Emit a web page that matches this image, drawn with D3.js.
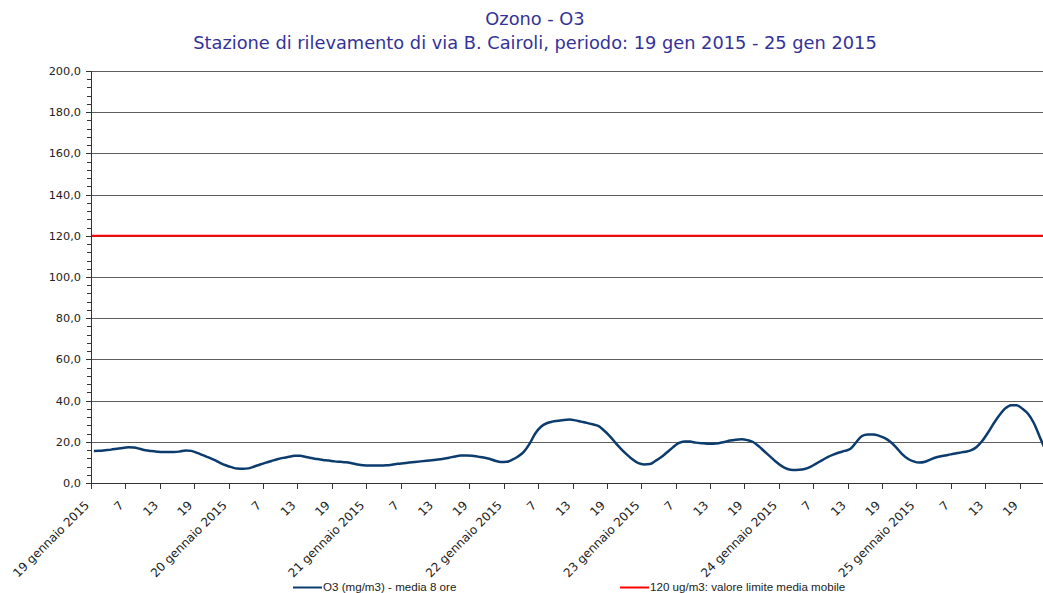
<!DOCTYPE html>
<html><head><meta charset="utf-8">
<script src="https://cdn.jsdelivr.net/npm/d3@7"></script>
<style>
body{margin:0;background:#fff;}
svg{display:block;}
</style></head>
<body>
<svg id="chart" width="1043" height="593"></svg>
<script>
const titleLines = ["Ozono - O3", "Stazione di rilevamento di via B. Cairoli, periodo: 19 gen 2015 - 25 gen 2015"];
const dayLabels = ["19 gennaio 2015","20 gennaio 2015","21 gennaio 2015","22 gennaio 2015","23 gennaio 2015","24 gennaio 2015","25 gennaio 2015"];
const hourLabels = ["7","13","19"];
const yTicks = [0,20,40,60,80,100,120,140,160,180,200];
const limitValue = 120;
const seriesNames = ["O3 (mg/m3) - media 8 ore", "120 ug/m3: valore limite media mobile"];
// hourly 8-hour mean values, 19 gen 01:00 onward
const o3Values = [
 15.5,15.6,15.9,16.2,16.6,17.0,17.3,17.2,16.6,15.9,15.5,15.2,15.0,15.0,15.0,15.3,15.8,15.6,14.6,13.5,12.4,11.2,9.8,8.6,
 7.7,7.0,6.9,7.1,8.0,9.0,9.9,10.7,11.5,12.2,12.7,13.2,13.2,12.6,12.1,11.6,11.2,10.9,10.5,10.3,10.1,9.6,9.0,8.6,
 8.5,8.5,8.5,8.6,8.9,9.3,9.6,9.9,10.2,10.5,10.8,11.1,11.4,11.8,12.3,12.9,13.3,13.3,13.2,12.8,12.4,11.8,10.8,10.2,
 10.3,11.3,12.9,15.1,19.0,24.0,27.3,29.0,29.8,30.2,30.6,30.8,30.4,29.8,29.2,28.5,27.7,25.5,22.8,19.5,16.5,13.8,11.4,9.6,
 9.0,9.2,10.8,12.6,14.9,17.3,19.4,20.2,20.1,19.6,19.3,19.1,19.1,19.3,19.9,20.6,21.0,21.2,20.8,19.9,17.8,15.3,12.8,10.3,
 8.2,6.8,6.3,6.4,6.8,7.8,9.4,11.0,12.6,13.8,14.8,15.6,16.6,19.8,22.8,23.6,23.6,22.9,21.8,19.9,17.2,14.0,11.8,10.5,
 9.9,10.3,11.5,12.5,13.1,13.6,14.2,14.7,15.2,15.8,17.5,20.5,24.5,29.0,33.0,36.2,37.8,37.8,36.0,33.5,29.0,22.5,16.0
];
const totalHours = 168;

const svg = d3.select("#chart");
const mLeft = 91, mRight = 1054, mTop = 71, mBottom = 483;
const x = d3.scaleLinear().domain([0,totalHours]).range([mLeft,mRight]);
const y = d3.scaleLinear().domain([0,200]).range([mBottom,mTop]);
const axisFont = "'DejaVu Sans', Verdana, sans-serif";

// title
svg.selectAll("text.title").data(titleLines).enter().append("text")
  .attr("x",535).attr("y",(d,i)=>25+i*24)
  .attr("text-anchor","middle")
  .attr("font-family",axisFont).attr("font-size",17.8)
  .attr("fill","#333399").text(d=>d);

// gridlines
svg.append("g").selectAll("line").data(yTicks.filter(v=>v>0)).enter().append("line")
  .attr("x1",mLeft).attr("x2",mRight).attr("y1",d=>Math.round(y(d))+0.5).attr("y2",d=>Math.round(y(d))+0.5)
  .attr("stroke","#5e5e5e").attr("stroke-width",1);

// y axis with minor ticks
const minor = d3.range(0,201,4);
svg.append("g").selectAll("line").data(minor).enter().append("line")
  .attr("x1",d=>d%20===0?mLeft-5:mLeft-4).attr("x2",mLeft)
  .attr("y1",d=>Math.round(y(d))+0.5).attr("y2",d=>Math.round(y(d))+0.5)
  .attr("stroke","#333").attr("stroke-width",1);
svg.append("line").attr("x1",mLeft+0.5).attr("x2",mLeft+0.5).attr("y1",mTop).attr("y2",mBottom+5)
  .attr("stroke","#333").attr("stroke-width",1);
svg.append("g").selectAll("text").data(yTicks).enter().append("text")
  .attr("x",mLeft-10).attr("y",d=>y(d)+4)
  .attr("text-anchor","end").attr("font-family",axisFont).attr("font-size",11.3)
  .attr("fill","#222").text(d=>d3.format(".1f")(d).replace(".",","));

// x axis
svg.append("line").attr("x1",mLeft).attr("x2",mRight).attr("y1",mBottom+0.5).attr("y2",mBottom+0.5)
  .attr("stroke","#333").attr("stroke-width",1);
const xTickIdx = d3.range(0,totalHours+1,6);
svg.append("g").selectAll("line").data(xTickIdx).enter().append("line")
  .attr("x1",d=>Math.round(x(d))+0.5).attr("x2",d=>Math.round(x(d))+0.5)
  .attr("y1",mBottom).attr("y2",mBottom+6)
  .attr("stroke","#333").attr("stroke-width",1);
const xLabels = [];
dayLabels.forEach((dl,di)=>{
  xLabels.push({i:di*24,t:dl});
  hourLabels.forEach((hl,hi)=>xLabels.push({i:di*24+(hi+1)*6,t:hl}));
});
svg.append("g").selectAll("text").data(xLabels).enter().append("text")
  .attr("transform",d=>`translate(${x(d.i)-1},${mBottom+23}) rotate(-45)`)
  .attr("text-anchor","end").attr("font-family",axisFont).attr("font-size",12)
  .attr("fill","#222").text(d=>d.t);

// clip
svg.append("clipPath").attr("id","plotclip").append("rect")
  .attr("x",mLeft).attr("y",mTop-5).attr("width",mRight-mLeft).attr("height",mBottom-mTop+10);

// limit line
svg.append("line").attr("clip-path","url(#plotclip)")
  .attr("x1",mLeft+1).attr("x2",mRight).attr("y1",y(limitValue)).attr("y2",y(limitValue))
  .attr("stroke","#ff0000").attr("stroke-width",2);

// O3 line
const line = d3.line().x((d,i)=>x(i+0.5)).y(d=>y(d)).curve(d3.curveMonotoneX);
svg.append("path").attr("clip-path","url(#plotclip)").datum(o3Values)
  .attr("d",line).attr("fill","none").attr("stroke","#0c3c6e").attr("stroke-width",2.5)
  .attr("stroke-linejoin","round");

// legend
const legend = [{name:seriesNames[0],color:"#0c3c6e",x:293},{name:seriesNames[1],color:"#ff0000",x:620}];
const lg = svg.append("g").selectAll("g").data(legend).enter().append("g");
lg.append("line").attr("x1",d=>d.x).attr("x2",d=>d.x+29).attr("y1",587.5).attr("y2",587.5)
  .attr("stroke",d=>d.color).attr("stroke-width",2);
lg.append("text").attr("x",d=>d.x+30).attr("y",591).attr("font-family","'Liberation Sans', Arial, sans-serif")
  .attr("font-size",11.6).attr("fill","#222").text(d=>d.name);
</script>
</body></html>
